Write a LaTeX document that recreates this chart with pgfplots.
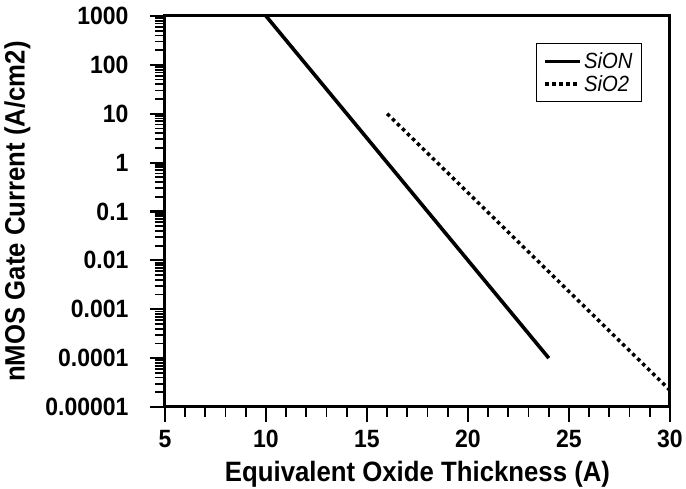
\documentclass[border=0pt]{standalone}
\usepackage{fontspec}
\setmainfont{Liberation Sans}[FakeStretch=0.92]
\usepackage{pgfplots}
\pgfplotsset{compat=1.18}
\begin{document}
\begin{tikzpicture}[x=1pt,y=1pt]
\path[use as bounding box] (-165,-82) rectangle (521,407);
\begin{axis}[
  at={(0,0)}, anchor=south west,
  scale only axis, width=505pt, height=391pt,
  ymode=log, xmin=5, xmax=30, ymin=1e-5, ymax=1000,
  xtick={5,10,15,20,25,30}, minor x tick num=4,
  ytick={1e-5,1e-4,1e-3,1e-2,1e-1,1,10,100,1000},
  yticklabels={0.00001,0.0001,0.001,0.01,0.1,1,10,100,1000},
  tick align=outside, tickpos=left,
  major tick length=15pt, minor tick length=10pt,
  every tick/.style={black, line width=2.2pt},
  every minor tick/.style={black, line width=1.8pt},
  axis line style={line width=3pt},
  /pgf/number format/assume math mode=true,
  tick label style={font=\fontsize{25}{28}\selectfont\bfseries},
  yticklabel style={xshift=-18pt},
  xticklabel style={yshift=-5pt},
  label style={font=\fontsize{28}{32}\selectfont\bfseries},
  xlabel={Equivalent Oxide Thickness (A)},
  ylabel={nMOS Gate Current (A/cm2)},
  xlabel style={yshift=-6pt},
  ylabel style={yshift=8pt},
  legend style={at={(0.9446,0.931)}, anchor=north east, draw=black, line width=1.3pt,
    font=\fontsize{22}{24}\selectfont\itshape, row sep=1pt, inner xsep=7pt, inner ysep=7pt},
  legend cell align=left,
  legend image code/.code={\draw[#1] (0pt,0pt) -- (35pt,0pt);},
  clip=false,
]
\addplot[black, line width=3.6pt] coordinates {(10,1000) (24,1e-4)};
\addlegendentry{SiON}
\addplot[black, line width=3.5pt, dash pattern=on 3.5pt off 3.5pt] coordinates {(16,10) (30,2.2e-5)};
\addlegendentry{SiO2}
\end{axis}
\end{tikzpicture}
\end{document}
